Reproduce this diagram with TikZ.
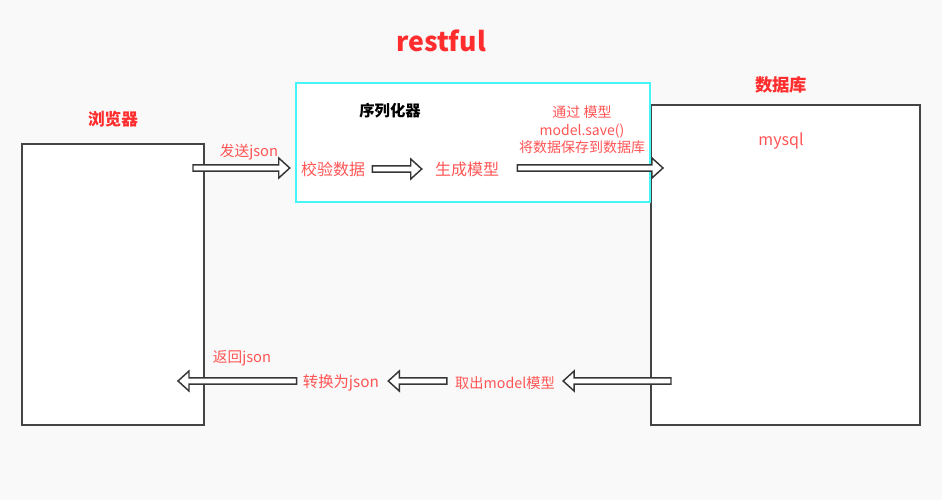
\documentclass[tikz,border=0pt]{standalone}
\usepackage{fontspec}
\setmainfont{Noto Sans CJK SC}
\usetikzlibrary{calc,fit}
\definecolor{titlered}{RGB}{255,45,45}
\definecolor{labelred}{RGB}{255,85,85}
\definecolor{sercyan}{RGB}{70,245,245}
\definecolor{edgegray}{RGB}{68,68,68}
\definecolor{bggray}{RGB}{249,249,249}
\begin{document}
\begin{tikzpicture}[x=0.75pt,y=-0.75pt,
  title/.style={font=\bfseries\fontsize{12.5}{15}\selectfont,text=titlered,inner sep=0pt},
  lbl/.style={font=\fontsize{12}{14}\selectfont,text=labelred,inner sep=0pt},
  small/.style={lbl,font=\fontsize{11}{13}\selectfont},
  note/.style={font=\fontsize{10.5}{13}\selectfont,text=labelred,inner sep=0pt,align=center},
  box/.style={draw=edgegray,line width=1.5pt,fill=white,inner sep=0pt},
  serbox/.style={draw=sercyan,line width=1.2pt,fill=white,inner sep=0pt},
  hollow/.style={draw=edgegray!80!black,line width=1.1pt,fill=white,line join=miter,
    to path={let \p1=(\tikztostart), \p2=(\tikztotarget), \n1={(\x2>\x1)*2-1} in
      (\x1,{\y1-2.4pt}) -- ({\x2-8.25pt*(\n1)},{\y1-2.4pt})
      -- ({\x2-8.25pt*(\n1)},{\y1-7.5pt}) -- (\x2,\y1)
      -- ({\x2-8.25pt*(\n1)},{\y1+7.5pt}) -- ({\x2-8.25pt*(\n1)},{\y1+2.4pt})
      -- (\x1,{\y1+2.4pt}) -- cycle}}
]

\fill[bggray] (0,0) rectangle (942,500);

\node[title,font=\bfseries\fontsize{20}{24}\selectfont] (restful) at (441,41) {restful};

\node[title] (browserlbl) at (113,119) {浏览器};
\node[box,fit={(22,144) (204,425)}] (browser) {};

\node[title,font=\bfseries\fontsize{13}{15}\selectfont] (dblbl) at (781,85) {数据库};
\node[box,fit={(651,105) (920,425)}] (db) {};
\node[lbl] (mysql) at (781,141) {mysql};

\node[serbox,fit={(296,83) (650,202)}] (ser) {};
\node[title,text=black,font=\bfseries\fontsize{11.5}{14}\selectfont] (serlbl) at (390,111) {序列化器};

\node[lbl] (check) at (333,169) {校验数据};
\node[lbl] (gen) at (467,169) {生成模型};
\node[note] (save) at (582,130) {通过 模型\\model.save()\\将数据保存到数据库};
\node[small] (send) at (249,152) {发送json};

\node[small,font=\fontsize{10.7}{13}\selectfont] (fetch) at (505,383) {取出model模型};
\node[lbl,font=\fontsize{11.5}{14}\selectfont] (conv) at (341,383) {转换为json};
\node[small] (ret) at (242,358) {返回json};

\draw[hollow] ($(browser.east |- check.west)+(-12,-1)$) to ($(check.west)+(-11,-1)$);
\draw[hollow] ($(check.east)+(7,0)$) to ($(gen.west)+(-13,0)$);
\draw[hollow] ($(gen.east)+(18,-1)$) to ($(db.west |- gen.east)+(13,-1)$);

\draw[hollow] ($(db.west |- fetch.east)+(21,-2)$) to ($(fetch.east)+(8,-2)$);
\draw[hollow] ($(fetch.west)+(-8,-2)$) to ($(conv.east)+(9,-2)$);
\draw[hollow] ($(conv.west)+(-6,-2)$) to ($(browser.east |- conv.west)+(-27,-2)$);

\end{tikzpicture}
\end{document}
